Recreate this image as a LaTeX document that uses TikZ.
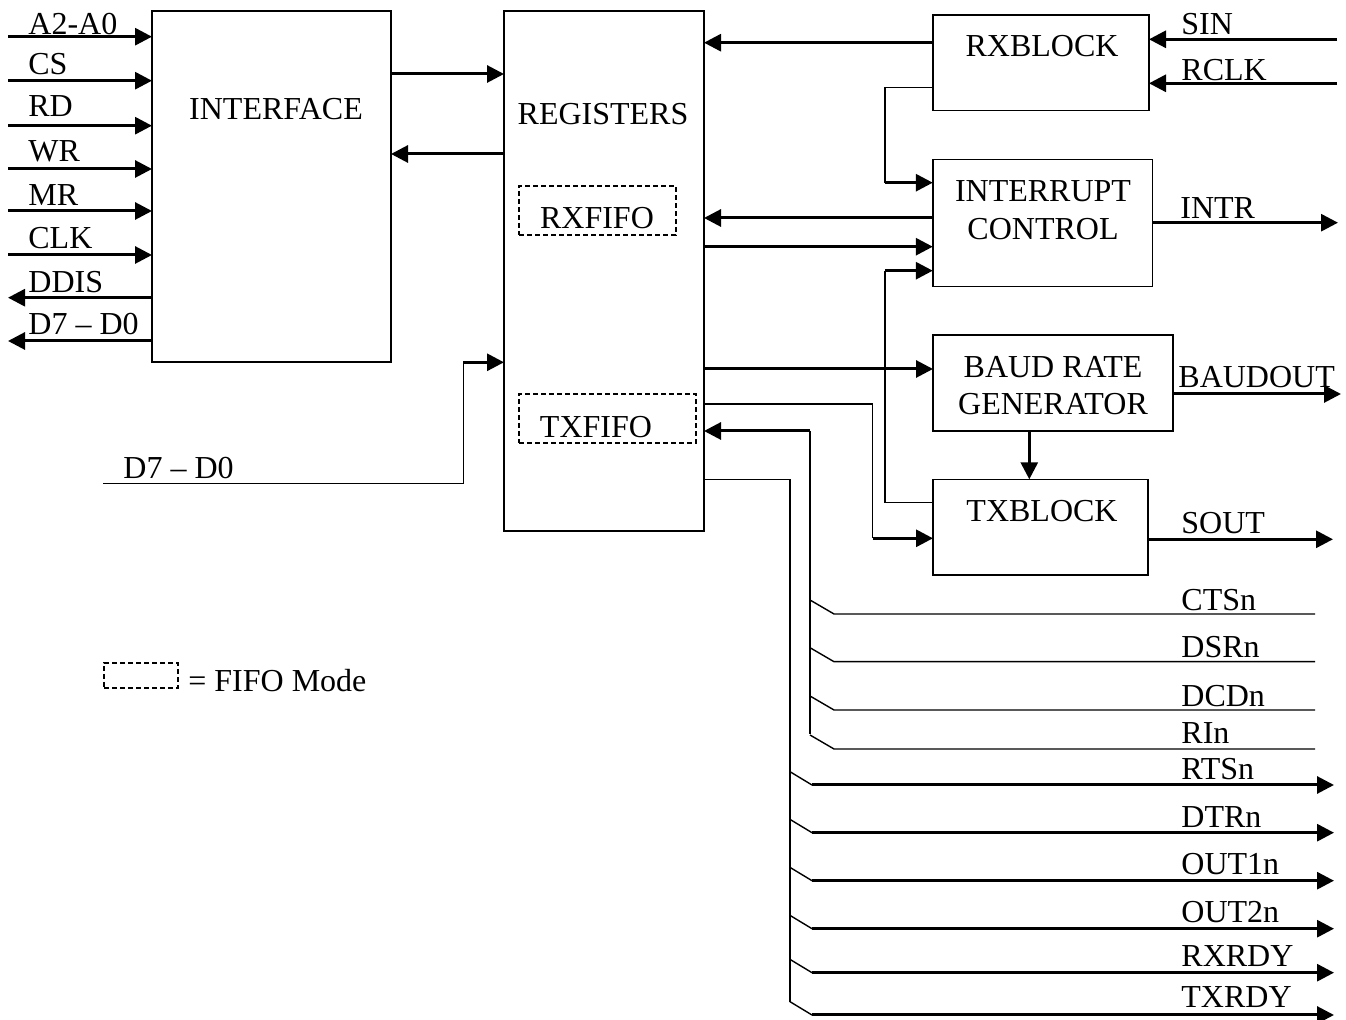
\documentclass[tikz,border=0pt]{standalone}
\usepackage{fontspec}
\setmainfont{Liberation Serif}
\usetikzlibrary{arrows.meta}
\newcommand{\fsz}{\fontsize{16}{19}\selectfont}
\begin{document}
\begin{tikzpicture}[x=0.5pt,y=-0.5pt,
  box/.style={draw,line width=0.7pt,inner sep=0pt,outer sep=0pt},
  fifo/.style={draw,line width=0.8pt,dash pattern=on 2.5pt off 1.5pt,inner sep=0pt,outer sep=0pt},
  txt/.style={font=\fsz,inner sep=0pt},
  lbl/.style={font=\fsz,inner sep=0pt,anchor=base west},
  arr/.style={line width=1.5pt,-{Triangle[length=8.5pt,width=8.5pt]}},
  thk/.style={line width=1.5pt},
  thn/.style={line width=0.7pt}]
\useasboundingbox (0,0) rectangle (1346,1020);

% ---------- blocks ----------
\node[box,minimum width=119.5pt,minimum height=175.5pt] (ifc) at (271.5,186.5) {};
\node[box,minimum width=100pt,minimum height=260pt] (regs) at (604,271) {};
\node[fifo,minimum width=78.5pt,minimum height=24.5pt] (rxf) at (597.5,210.5) {};
\node[fifo,minimum width=88.5pt,minimum height=24.5pt] (txf) at (607.5,418.5) {};
\node[box,minimum width=108pt,minimum height=47.8pt] (rx) at (1041,62.8) {};
\node[box,minimum width=109.9pt,minimum height=63.7pt] (ic) at (1042.7,223) {};
\node[box,minimum width=120pt,minimum height=48pt] (baud) at (1053,383) {};
\node[box,minimum width=107.5pt,minimum height=47.9pt] (tx) at (1040.5,527.2) {};
\node[fifo,minimum width=37pt,minimum height=12.5pt] (leg) at (141,675.5) {};

% ---------- block texts ----------
\node[txt] (tifc) at (276,109) {INTERFACE};
\node[txt] (tregs) at (603,114) {REGISTERS};
\node[txt] (trxf) at (597,218) {RXFIFO};
\node[txt] (ttxf) at (596,427) {TXFIFO};
\node[txt] (trx) at (1042,46) {RXBLOCK};
\node[txt] (tic1) at (1043,191) {INTERRUPT};
\node[txt] (tic2) at (1043,229) {CONTROL};
\node[txt] (tb1) at (1053,367) {BAUD RATE};
\node[txt] (tb2) at (1053,404) {GENERATOR};
\node[txt] (ttx) at (1042,511) {TXBLOCK};
\node[lbl] (tleg) at (188,691.7) {= FIFO Mode};

% ---------- left side signals ----------
\coordinate (inA) at (8,36.7);
\coordinate (inCS) at (8,80.7);
\coordinate (inRD) at (8,125.7);
\coordinate (inWR) at (8,169);
\coordinate (inMR) at (8,211);
\coordinate (inCLK) at (8,255);
\coordinate (outDD) at (8,297.7);
\coordinate (outD) at (8,341);
\draw[arr] (inA) -- (inA -| ifc.west);
\draw[arr] (inCS) -- (inCS -| ifc.west);
\draw[arr] (inRD) -- (inRD -| ifc.west);
\draw[arr] (inWR) -- (inWR -| ifc.west);
\draw[arr] (inMR) -- (inMR -| ifc.west);
\draw[arr] (inCLK) -- (inCLK -| ifc.west);
\draw[arr] (outDD -| ifc.west) -- (outDD);
\draw[arr] (outD -| ifc.west) -- (outD);
\node[lbl] (lA) at (28,35) {A2-A0};
\node[lbl] (lCS) at (28,75) {CS};
\node[lbl] (lRD) at (28,117) {RD};
\node[lbl] (lWR) at (28,161.7) {WR};
\node[lbl] (lMR) at (28,206) {MR};
\node[lbl] (lCLK) at (28,249) {CLK};
\node[lbl] (lDD) at (28,293) {DDIS};
\node[lbl] (lD) at (28,335) {D7 – D0};

% ---------- interface <-> registers ----------
\coordinate (y74) at (0,74);
\coordinate (y154) at (0,154);
\draw[arr] (ifc.east |- y74) -- (regs.west |- y74);
\draw[arr] (regs.west |- y154) -- (ifc.east |- y154);

% lower data bus
\coordinate (dlow) at (103,483.3);
\coordinate (dbend) at (463.3,362.3);
\draw[thn] (dlow) -| (dbend);
\draw[arr] (dbend) -- (dbend -| regs.west);
\node[lbl] (ldlow) at (123,479) {D7 – D0};

% ---------- RXBLOCK ----------
\coordinate (sinE) at (1337,39.3);
\coordinate (rclkE) at (1337,83.3);
\draw[arr] (sinE) -- (sinE -| rx.east);
\draw[arr] (rclkE) -- (rclkE -| rx.east);
\node[lbl] (lSIN) at (1181,35) {SIN};
\node[lbl] (lRCLK) at (1181,81) {RCLK};
\coordinate (y43) at (0,42.7);
\draw[arr] (rx.west |- y43) -- (regs.east |- y43);
\coordinate (y87) at (0,87.3);
\coordinate (k1) at (885,182.7);
\draw[thn] (rx.west |- y87) -| (k1);
\draw[arr] (k1) -- (k1 -| ic.west);

% ---------- INTERRUPT ----------
\coordinate (y218) at (0,218);
\coordinate (y247) at (0,246.7);
\draw[arr] (ic.west |- y218) -- (regs.east |- y218);
\draw[arr] (regs.east |- y247) -- (ic.west |- y247);
\coordinate (k2) at (885,270.7);
\coordinate (y503) at (0,502.7);
\draw[thn] (tx.west |- y503) -| (k2);
\draw[arr] (k2) -- (k2 -| ic.west);
\coordinate (intrE) at (1338,222.7);
\draw[arr] (ic.east |- intrE) -- (intrE);
\node[lbl] (lINTR) at (1180,219) {INTR};

% ---------- BAUD ----------
\coordinate (y369) at (0,369);
\draw[arr] (regs.east |- y369) -- (baud.west |- y369);
\coordinate (boutE) at (1341,394);
\draw[arr] (baud.east |- boutE) -- (boutE);
\node[lbl] (lBOUT) at (1178,388) {BAUDOUT};
\coordinate (xbt) at (1029.3,0);
\draw[arr] (baud.south -| xbt) -- (tx.north -| xbt);

% ---------- TXBLOCK ----------
\coordinate (k3) at (872.7,404);
\coordinate (k4) at (872.7,538.3);
\draw[thn] (regs.east |- k3) -- (k3) -- (k4);
\draw[arr] (k4) -- (k4 -| tx.west);
\coordinate (soutE) at (1333,539.3);
\draw[arr] (tx.east |- soutE) -- (soutE);
\node[lbl] (lSOUT) at (1181,534) {SOUT};

% ---------- modem input bus ----------
\coordinate (k5) at (810,431);
\draw[arr] (k5) -- (k5 -| regs.east);
\coordinate (busInEnd) at (810,734.3);
\draw[thn] (k5) -- (busInEnd);
\foreach \n/\y in {cts/614,dsr/661.7,dcd/710,ri/749}{
  \coordinate (\n E) at (1315,\y);
  \coordinate (\n B) at (834,\y);
  \coordinate (\n T) at (810,\y-14);
  \draw[thn] (\n E) -- (\n B) -- (\n T);
}
\node[lbl] (lCTS) at (1181,610.7) {CTSn};
\node[lbl] (lDSR) at (1181,658) {DSRn};
\node[lbl] (lDCD) at (1181,707) {DCDn};
\node[lbl] (lRI) at (1181,744) {RIn};

% ---------- modem output bus ----------
\coordinate (k6) at (790,479.3);
\coordinate (busOutEnd) at (790,1002);
\draw[thn] (regs.east |- k6) -- (k6) -- (busOutEnd);
\foreach \n/\y in {rts/785,dtr/832.7,oa/880.7,ob/928.7,rxr/972.7,txr/1015}{
  \coordinate (\n T) at (790,\y-13.3);
  \coordinate (\n B) at (812,\y);
  \coordinate (\n E) at (1334,\y);
  \draw[thn] (\n T) -- (\n B);
  \draw[arr] (\n B) -- (\n E);
}
\node[lbl] (lRTS) at (1181,780) {RTSn};
\node[lbl] (lDTR) at (1181,828) {DTRn};
\node[lbl] (lO1) at (1181,875) {OUT1n};
\node[lbl] (lO2) at (1181,922.7) {OUT2n};
\node[lbl] (lRXR) at (1181,966.7) {RXRDY};
\node[lbl] (lTXR) at (1181,1008) {TXRDY};
\end{tikzpicture}
\end{document}
